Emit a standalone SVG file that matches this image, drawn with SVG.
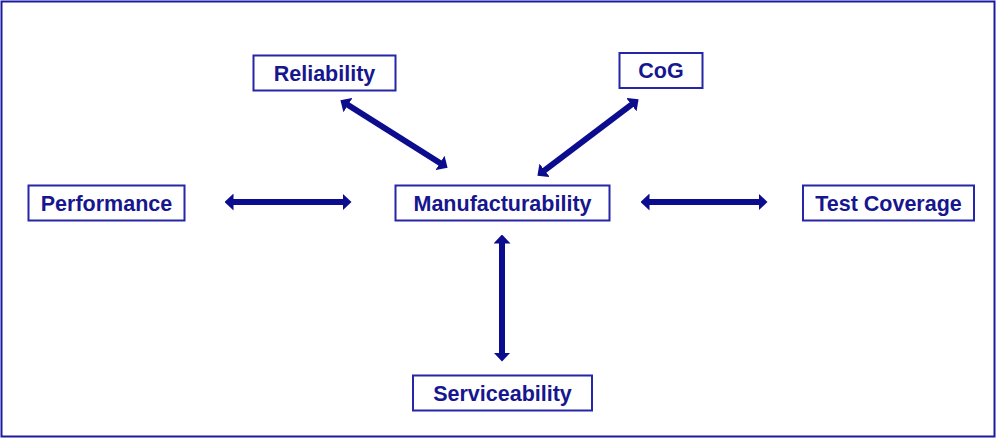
<svg xmlns="http://www.w3.org/2000/svg" width="996" height="438" viewBox="0 0 996 438">
<style>
.box{fill:#fff;stroke:#2626a8;stroke-width:2}
.lbl{font-family:"Liberation Sans",Arial,sans-serif;font-weight:bold;font-size:21.5px;fill:#16168e;text-anchor:middle}
.arr{stroke:#0c0c8e;stroke-width:6;fill:none;marker-start:url(#head);marker-end:url(#head)}
</style>
<defs>
<marker id="head" viewBox="0 0 9 17" markerWidth="9" markerHeight="17" refX="0.5" refY="8.5" orient="auto-start-reverse" markerUnits="userSpaceOnUse">
<path d="M0,0 L9,8.5 L0,17 z" fill="#0c0c8e"/>
</marker>
</defs>
<rect x="1.5" y="1.5" width="993" height="435" fill="#fff" stroke="#1a1aa0" stroke-width="2"/>
<g id="connectors">
<line class="arr" x1="233" y1="202" x2="343" y2="202"/>
<line class="arr" x1="649" y1="202" x2="759" y2="202"/>
<line class="arr" x1="502" y1="243" x2="502" y2="353"/>
<line class="arr" x1="347.6" y1="104.8" x2="440.4" y2="163.2"/>
<line class="arr" x1="631.8" y1="104.4" x2="544.2" y2="170.6"/>
</g>
<g id="reliability"><rect class="box" x="253.5" y="55.5" width="142" height="35"/><text class="lbl" x="324.5" y="80.5">Reliability</text></g>
<g id="cog"><rect class="box" x="619.5" y="53" width="83" height="35"/><text class="lbl" x="661" y="78">CoG</text></g>
<g id="performance"><rect class="box" x="28.5" y="185.5" width="156" height="35"/><text class="lbl" x="106.5" y="210.5">Performance</text></g>
<g id="manufacturability"><rect class="box" x="395.5" y="185.5" width="214" height="35"/><text class="lbl" x="502.5" y="210.5">Manufacturability</text></g>
<g id="test-coverage"><rect class="box" x="803" y="185.5" width="171" height="35"/><text class="lbl" x="888.5" y="210.5">Test Coverage</text></g>
<g id="serviceability"><rect class="box" x="413" y="375.5" width="179" height="35"/><text class="lbl" x="502.5" y="400.5">Serviceability</text></g>
</svg>
